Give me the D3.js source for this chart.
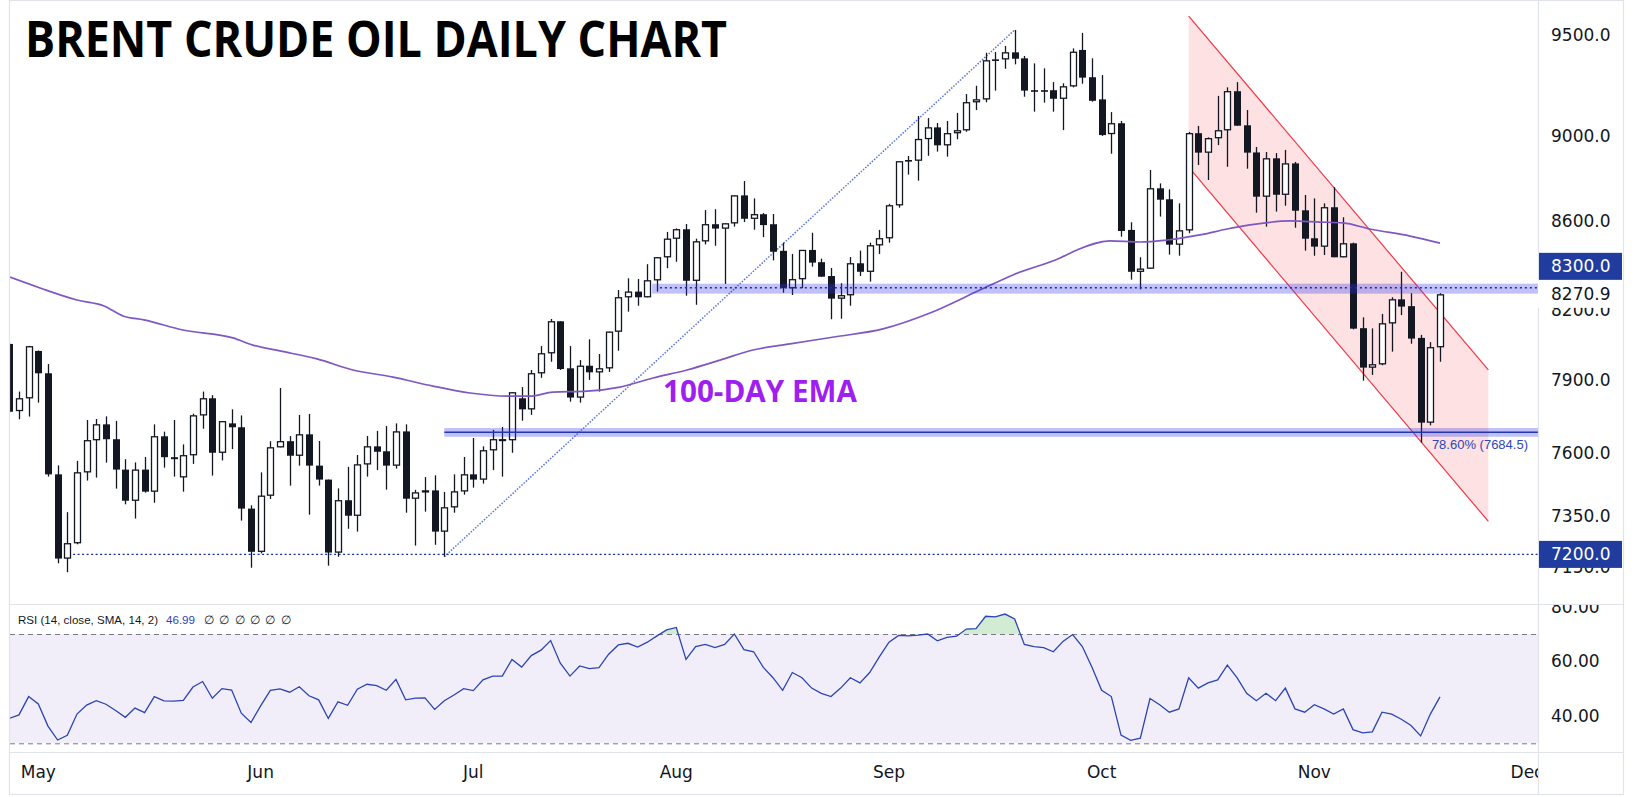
<!DOCTYPE html>
<html><head><meta charset="utf-8">
<script src="https://cdn.jsdelivr.net/npm/d3@7/dist/d3.min.js"></script>
<style>html,body{margin:0;padding:0;background:#fff}svg{display:block}</style>
</head><body>
<svg id="chart" width="1634" height="797"></svg>
<script>
// ---------------- DATA ----------------
// bar index: 0 = 1 May 2023 (trading days); first bar in view is index -3
const firstIndex = -3;
const openP = [
8055,7772,7825,8025,7930,7514,7184,7243,7522,7652,
7717,7656,7533,7409,7533,7445,7668,7583,7502,7591,
7754,7825,7601,7721,7705,7378,7210,7429,7623,7648,
7589,7676,7549,7493,7207,7411,7350,7554,7627,7607,
7549,7688,7417,7442,7450,7288,7383,7446,7514,7493,
7611,7653,7652,7825,7779,7930,8015,8153,7951,7828,
7962,7934,7951,8108,8258,8283,8258,8333,8436,8520,
8563,8331,8508,8586,8566,8590,8719,8611,8632,8586,
8465,8298,8338,8469,8414,8352,8252,8267,8409,8371,
8490,8522,8673,8885,8882,8985,9041,8955,9013,9027,
9163,9177,9375,9375,9410,9380,9222,9222,9222,9180,
9241,9422,9286,9177,9009,9061,8560,8371,8385,8752,
8701,8493,8558,9013,8920,8989,9027,9217,9051,8921,
8713,8893,8722,8869,8650,8522,8484,8664,8436,8499,
8123,7954,7968,8144,8249,8219,8081,7724,8041];
const highP = [
8060,7853,8047,8027,7969,7550,7364,7568,7735,7739,
7750,7731,7575,7562,7584,7717,7687,7735,7635,7761,
7853,7838,7730,7779,7754,7391,7522,7648,7868,7669,
7756,7760,7649,7493,7458,7544,7592,7669,7690,7710,
7721,7717,7452,7503,7510,7444,7514,7584,7661,7627,
7694,7706,7850,7872,7944,8046,8163,8153,8046,7986,
8075,8012,8108,8290,8342,8339,8405,8436,8551,8567,
8587,8520,8651,8655,8590,8719,8786,8705,8637,8633,
8502,8451,8469,8547,8430,8388,8320,8437,8466,8502,
8560,8680,8879,8904,9096,9086,9062,9072,9111,9203,
9244,9408,9412,9442,9523,9392,9355,9330,9262,9256,
9430,9508,9380,9297,9115,9072,8595,8436,8838,8775,
8747,8682,9019,9048,8993,9194,9236,9262,9125,8947,
8923,8918,8933,8876,8721,8705,8682,8757,8618,8502,
8170,8122,8185,8258,8371,8276,8094,8063,8276];
const lowP = [
7765,7738,7749,7807,7505,7166,7132,7239,7489,7501,
7561,7457,7395,7339,7441,7401,7541,7505,7445,7556,
7699,7509,7570,7616,7331,7149,7204,7416,7623,7469,
7549,7354,7469,7157,7191,7299,7288,7505,7531,7453,
7537,7362,7234,7366,7237,7191,7362,7433,7461,7477,
7531,7505,7601,7732,7756,7911,7979,7944,7811,7807,
7902,7853,7936,8026,8195,8221,8258,8283,8387,8416,
8265,8225,8494,8488,8317,8575,8596,8561,8527,8422,
8278,8268,8298,8394,8349,8162,8164,8221,8352,8327,
8451,8502,8662,8816,8788,8905,8925,8901,8984,9020,
9125,9163,9220,9328,9350,9190,9117,9161,9117,9028,
9236,9254,9166,9000,8915,8529,8336,8293,8385,8621,
8448,8443,8545,8861,8791,8956,8853,9049,8844,8639,
8575,8644,8671,8570,8466,8443,8446,8436,8436,8118,
7899,7923,7964,8022,8180,8056,7642,7713,7979];
const closeP = [
7769,7825,8045,7930,7514,7184,7243,7522,7652,7717,
7656,7533,7409,7533,7445,7668,7583,7575,7591,7754,
7825,7601,7730,7705,7378,7210,7429,7623,7648,7589,
7676,7549,7493,7207,7411,7350,7554,7627,7605,7549,
7688,7417,7442,7450,7288,7383,7446,7514,7493,7611,
7656,7656,7850,7779,7930,8015,8153,7948,7828,7962,
7934,7951,8108,8258,8283,8258,8333,8436,8520,8563,
8331,8508,8586,8566,8590,8719,8611,8632,8582,8461,
8298,8338,8469,8412,8349,8252,8267,8409,8371,8490,
8522,8673,8879,8882,8985,9041,8955,9013,9027,9163,
9177,9370,9370,9410,9378,9220,9219,9221,9180,9241,
9413,9284,9170,9004,9061,8555,8371,8385,8752,8699,
8493,8558,9013,8920,8989,9027,9217,9049,8920,8713,
8893,8722,8869,8648,8520,8484,8664,8436,8499,8121,
7954,7968,8144,8249,8217,8078,7724,8041,8270.9];
const rsiVals = [
39.1,40.4,47.1,44.4,36.3,31.2,32.9,40.7,44.0,45.6,
44.3,42.0,39.5,42.9,41.2,47.1,45.5,45.4,45.7,50.6,
52.6,46.5,50.0,49.5,41.0,37.6,43.7,49.4,49.9,48.7,
50.7,47.4,45.9,39.1,45.2,43.9,49.8,51.6,51.1,49.4,
53.4,45.9,46.5,46.6,42.4,45.6,47.7,50.0,49.3,53.2,
54.6,54.6,60.7,57.9,62.1,64.1,67.6,59.3,54.6,58.3,
57.3,57.7,62.6,66.0,66.6,65.2,67.0,69.3,71.5,72.4,
60.7,65.4,66.2,65.0,66.2,70.0,64.3,63.5,57.8,54.0,
49.4,55.9,54.0,50.2,48.3,47.1,50.2,54.0,52.1,55.9,
61.6,67.0,69.5,69.3,69.6,70.0,67.5,68.8,69.2,71.8,
72.0,76.5,76.3,77.3,75.5,66.2,65.4,65.0,63.5,67.3,
69.8,65.4,57.8,49.4,47.1,33.0,31.1,31.9,46.4,44.1,
41.4,42.6,54.0,50.2,52.1,53.2,58.6,54.0,48.3,45.6,
48.3,45.6,50.2,42.6,41.4,44.1,42.6,40.7,42.6,35.0,
33.8,34.2,41.4,40.7,38.8,36.5,32.7,40.7,46.99];
// 100-day EMA, read at these bar positions
const emaIdx = [-2.93,0.18,4.0,6.8,8.76,10.93,14.97,20.14,22.2,25.0,28.83,32.55,36.69,40.83,44.66,48.48,50.86,53.24,56.76,60.17,63.59,67.1,70.52,73.93,77.76,82.31,87.38,92.24,97.41,100.83,105.7,107.45,110.86,113.96,116.76,120.17,122.97,125.34,129.48,132.58,134.96,137.76,141.9,145.0];
const emaVal = [8347,8299,8246,8220,8176,8159,8115,8081,8050,8025,7991,7944,7914,7876,7847,7834,7834,7851,7855,7872,7910,7944,7986,8029,8055,8085,8120,8189,8290,8357,8433,8469,8510,8505,8514,8537,8564,8583,8601,8596,8592,8564,8532,8500];

const monthNames = ["May","Jun","Jul","Aug","Sep","Oct","Nov","Dec"];
const monthIdx = [0,23,45,66,88,110,132,154];
const priceTicks = [9500,9000,8600,8200,7900,7600,7350,7150];
const rsiTicks = [80,60,40];
const rsiBandLevels = [70,30];

// annotations (price / bar index)
const resistLevel = 8300, resistBandLo = 8274, resistBandHi = 8318, resistBandStart = 63.5, resistLineStart = 64.3;
const fibLevel = 7684.5, fibBandLo = 7666, fibBandHi = 7702, fibStart = 42;
const fibLabel = "78.60% (7684.5)";
const supportLevel = 7200, supportStart = 3.6;
const fibLineIdx = [42, 101], fibLinePrice = [7191, 9523];
const chanIdx = [119, 150], chanUpper = [9594, 7944], chanLower = [8851, 7328];

const titleText = "BRENT CRUDE OIL DAILY CHART";
const emaText = "100-DAY EMA";
const rsiTitle = "RSI (14, close, SMA, 14, 2)";
const rsiLastText = "46.99";

// ---------------- LAYOUT ----------------
const L = 10, T = 1, PR = 1538, FR = 1623, PB = 604, RB = 752, FB = 794;
const ink = '#131722', grid = '#e0e3eb';
const svg = d3.select('#chart');
svg.append('rect').attr('width',1634).attr('height',797).attr('fill','#fff');

const x = d3.scaleLinear().domain([0,145]).range([38.3,1440]);
const y = d3.scaleLog().domain([9500,7600]).range([34.5,453]);
const yr = d3.scaleLinear().domain([70,30]).range([634,743.3]);

const defs = svg.append('defs');
function clip(id,x0,y0,w,h){defs.append('clipPath').attr('id',id).append('rect').attr('x',x0).attr('y',y0).attr('width',w).attr('height',h);}
clip('cMain',L,T,PR-L,PB-T);
clip('cRsi',L,PB,PR-L,RB-PB);
clip('cOB',L,PB,PR-L,yr(70)-PB);
clip('cPAx',PR,T,FR-PR,PB-T);
clip('cRAx',PR,PB+1,FR-PR,RB-PB-1);
clip('cTime',L,RB,PR-L,FB-RB);

const bars = openP.map((o,k)=>({i:firstIndex+k,o:o,h:highP[k],l:lowP[k],c:closeP[k],r:rsiVals[k]}));

// ---------- main panel ----------
const main = svg.append('g').attr('clip-path','url(#cMain)');

// channel
const cx0 = x(chanIdx[0]), cx1 = x(chanIdx[1]);
main.append('polygon')
  .attr('points',[[cx0,y(chanUpper[0])],[cx1,y(chanUpper[1])],[cx1,y(chanLower[1])],[cx0,y(chanLower[0])]].map(p=>p.join(',')).join(' '))
  .attr('fill','rgba(242,54,69,0.15)');
[chanUpper,chanLower].forEach(p=>{
  main.append('line').attr('x1',cx0).attr('y1',y(p[0])).attr('x2',cx1).attr('y2',y(p[1]))
    .attr('stroke','#f23645').attr('stroke-width',1.2);
});

// fib diagonal
main.append('line').attr('x1',x(fibLineIdx[0])).attr('y1',y(fibLinePrice[0]))
  .attr('x2',x(fibLineIdx[1])).attr('y2',y(fibLinePrice[1]))
  .attr('stroke','#3d5bd6').attr('stroke-width',1.5).attr('stroke-dasharray','1.5 1.5').attr('opacity',0.85);

// candles
const cg = main.append('g');
const cxp = d => Math.round(x(d.i));
cg.selectAll('line').data(bars).join('line')
  .attr('x1',d=>cxp(d)+0.5).attr('x2',d=>cxp(d)+0.5)
  .attr('y1',d=>y(d.h)).attr('y2',d=>y(d.l))
  .attr('stroke',ink).attr('stroke-width',1.3);
cg.selectAll('rect').data(bars).join('rect')
  .attr('x',d=>d.c>=d.o ? cxp(d)-2.5 : cxp(d)-3)
  .attr('y',d=>y(Math.max(d.o,d.c)) + (d.c>=d.o?0.5:0))
  .attr('width',d=>d.c>=d.o?6:7)
  .attr('height',d=>{const h=y(Math.min(d.o,d.c))-y(Math.max(d.o,d.c)); return d.c>=d.o?Math.max(h-1,0.8):Math.max(h,1.6);})
  .attr('fill',d=>d.c>=d.o?'#fff':ink)
  .attr('stroke',d=>d.c>=d.o?ink:'none').attr('stroke-width',1.3);

// EMA
const emaPts = emaIdx.map((v,k)=>[v,emaVal[k]]);
main.append('path').datum(emaPts)
  .attr('d',d3.line().x(d=>x(d[0])).y(d=>y(d[1])).curve(d3.curveMonotoneX))
  .attr('fill','none').attr('stroke','#7e57c2').attr('stroke-width',1.7);

// resistance band 8300
main.append('rect').attr('x',x(resistBandStart)).attr('y',y(resistBandHi))
  .attr('width',PR-x(resistBandStart)).attr('height',y(resistBandLo)-y(resistBandHi))
  .attr('fill','rgba(45,50,235,0.3)');
main.append('line').attr('x1',x(resistLineStart)).attr('x2',PR)
  .attr('y1',y(resistLevel)).attr('y2',y(resistLevel))
  .attr('stroke','#1a2bb0').attr('stroke-width',1.3).attr('stroke-dasharray','2 3');

// fib band 7684.5
main.append('rect').attr('x',x(fibStart)).attr('y',y(fibBandHi))
  .attr('width',PR-x(fibStart)).attr('height',y(fibBandLo)-y(fibBandHi))
  .attr('fill','rgba(45,50,235,0.3)');
main.append('line').attr('x1',x(fibStart)).attr('x2',PR)
  .attr('y1',y(fibLevel)).attr('y2',y(fibLevel))
  .attr('stroke','#2436b0').attr('stroke-width',1.6);
main.append('text').attr('x',1528).attr('y',y(fibLevel)+17)
  .attr('text-anchor','end').attr('font-family','Liberation Sans, Arial, sans-serif').attr('font-size',13)
  .attr('fill','#2e46b8').text(fibLabel);

// support 7200 dotted
main.append('line').attr('x1',x(supportStart)).attr('x2',PR)
  .attr('y1',y(supportLevel)).attr('y2',y(supportLevel))
  .attr('stroke','#1a2bb0').attr('stroke-width',1.3).attr('stroke-dasharray','2 2.5');

// texts
svg.append('text').attr('x',25).attr('y',57)
  .attr('font-family','Open Sans, Lato, sans-serif').attr('font-weight',700).attr('font-size',50)
  .attr('textLength',702).attr('lengthAdjust','spacingAndGlyphs').attr('fill','#000').text(titleText);
svg.append('text').attr('x',663).attr('y',401.5)
  .attr('font-family','Open Sans, Lato, sans-serif').attr('font-weight',700).attr('font-size',30)
  .attr('textLength',194).attr('lengthAdjust','spacingAndGlyphs').attr('fill','#9f1ff0').text(emaText);

// ---------- RSI panel ----------
const rg = svg.append('g').attr('clip-path','url(#cRsi)');
rg.append('rect').attr('x',L).attr('y',yr(70)).attr('width',PR-L).attr('height',yr(30)-yr(70)).attr('fill','#f2eef9');
rsiBandLevels.forEach(v=>{
  rg.append('line').attr('x1',L).attr('x2',PR).attr('y1',yr(v)+0.5).attr('y2',yr(v)+0.5)
    .attr('stroke','#787b86').attr('stroke-width',1).attr('stroke-dasharray','5 4');
});
rg.append('path').datum(bars).attr('clip-path','url(#cOB)')
  .attr('d',d3.area().x(d=>x(d.i)).y0(yr(70)).y1(d=>yr(d.r)))
  .attr('fill','rgba(76,175,80,0.25)');
rg.append('path').datum(bars)
  .attr('d',d3.line().x(d=>x(d.i)).y(d=>yr(d.r)))
  .attr('fill','none').attr('stroke','#2b44b3').attr('stroke-width',1.3);

// RSI header
const hf = 'Liberation Sans, Arial, sans-serif';
svg.append('text').attr('x',18).attr('y',624).attr('font-family',hf).attr('font-size',11.6)
  .attr('textLength',140).attr('lengthAdjust','spacingAndGlyphs').attr('fill',ink).text(rsiTitle);
svg.append('text').attr('x',166).attr('y',624).attr('font-family',hf).attr('font-size',11.6)
  .attr('fill','#2b44b3').text(rsiLastText);
svg.selectAll('text.na').data(d3.range(6)).join('text').attr('class','na')
  .attr('x',k=>204+k*15.3).attr('y',624).attr('font-family',hf).attr('font-size',11.6)
  .attr('fill',ink).text('\u2205');

// ---------- frame / separators ----------
const fr = svg.append('g').attr('stroke',grid).attr('stroke-width',1.2).attr('fill','none');
fr.append('rect').attr('x',L-0.5).attr('y',T-0.5).attr('width',FR-L+1).attr('height',FB-T+1);
fr.append('line').attr('x1',PR+0.5).attr('x2',PR+0.5).attr('y1',T).attr('y2',FB);
fr.append('line').attr('x1',L).attr('x2',FR).attr('y1',PB+0.5).attr('y2',PB+0.5);
fr.append('line').attr('x1',L).attr('x2',FR).attr('y1',RB+0.5).attr('y2',RB+0.5);

// ---------- axes ----------
const af = 'DejaVu Sans, Verdana, sans-serif', afs = 17;
const pax = svg.append('g').attr('clip-path','url(#cPAx)');
pax.selectAll('text').data(priceTicks).join('text')
  .attr('x',1551).attr('y',d=>y(d)+6).attr('font-family',af).attr('font-size',afs).attr('fill',ink)
  .text(d=>d.toFixed(1));

const boxH = 27;
const lastClose = closeP[closeP.length-1];
const yLast = y(lastClose);
const yRes = Math.min(y(resistLevel), yLast - boxH - 1);
// last price label (white)
pax.append('rect').attr('x',PR-1).attr('y',yLast-boxH/2).attr('width',FR-PR).attr('height',boxH).attr('fill','#fff');
pax.append('text').attr('x',1551).attr('y',yLast+6).attr('font-family',af).attr('font-size',afs).attr('fill',ink).text(lastClose.toFixed(1));
// level labels (blue boxes)
[[resistLevel,yRes],[supportLevel,y(supportLevel)]].forEach(([v,yy])=>{
  pax.append('rect').attr('x',PR+1).attr('y',yy-boxH/2).attr('width',FR-PR-2).attr('height',boxH).attr('fill','#1f3c9e');
  pax.append('text').attr('x',1551).attr('y',yy+6).attr('font-family',af).attr('font-size',afs).attr('fill','#fff').text(v.toFixed(1));
});

const rax = svg.append('g').attr('clip-path','url(#cRAx)');
rax.selectAll('text').data(rsiTicks).join('text')
  .attr('x',1551).attr('y',d=>yr(d)+6).attr('font-family',af).attr('font-size',afs).attr('fill',ink)
  .text(d=>d.toFixed(2));

// time axis
const tg = svg.append('g').attr('clip-path','url(#cTime)');
tg.selectAll('text').data(monthNames).join('text')
  .attr('x',(d,k)=>x(monthIdx[k])).attr('y',778).attr('text-anchor','middle')
  .attr('font-family',af).attr('font-size',afs).attr('fill',ink).text(d=>d);
</script>
</body></html>
